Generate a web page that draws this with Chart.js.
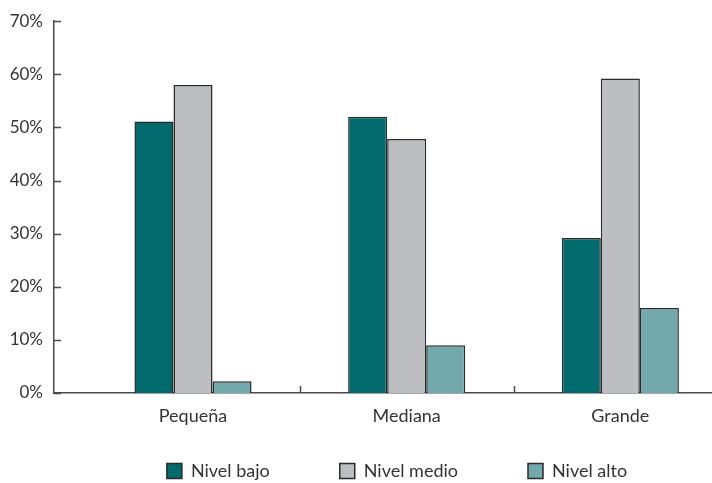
<!DOCTYPE html>
<html>
<head>
<meta charset="utf-8">
<script src="https://cdn.jsdelivr.net/npm/chart.js@4/dist/chart.umd.min.js"></script>
<style>
  html, body { margin: 0; padding: 0; background: #fff; }
  #wrap { width: 712px; height: 483px; position: relative; }
</style>
</head>
<body>
<div id="wrap"><canvas id="c"></canvas></div>
<script>
const categories = ['Pequeña', 'Mediana', 'Grande'];
const seriesNames = ['Nivel bajo', 'Nivel medio', 'Nivel alto'];
const nivelBajo = [51.1, 52.0, 29.2];
const nivelMedio = [58.0, 47.8, 59.2];
const nivelAlto = [2.2, 9.0, 16.0];
const yTicks = [0, 10, 20, 30, 40, 50, 60, 70];

const colors = ['#006a6d', '#bdbec2', '#72a9ac'];
const FONT = 'Lato, "Open Sans", sans-serif';
const TEXT = '#333333';
const AXIS = '#4a4a4a';

function pts(arr) { return arr.map((v, i) => ({ x: i, y: v })); }

const innerTicks = {
  id: 'innerTicks',
  afterLayout(chart) {
    // legend reserves little height; extend its box so the row sits at the reference position
    const lg = chart.legend;
    if (lg) {
      lg.top = chart.chartArea.bottom - 1;
      lg.height = lg.bottom - lg.top;
      lg.left = 82;
      lg.width = lg.right - lg.left;
    }
  },
  afterDatasetsDraw(chart) {
    const { ctx, chartArea, scales } = chart;
    ctx.save();
    ctx.strokeStyle = AXIS;
    ctx.lineWidth = 1.5;
    ctx.beginPath();
    yTicks.forEach(v => {
      const y = Math.round(scales.y.getPixelForValue(v)) + 0.5;
      ctx.moveTo(chartArea.left, y);
      ctx.lineTo(chartArea.left + 7, y);
    });
    for (let i = 0; i < categories.length - 1; i++) {
      const x = Math.round(scales.x.getPixelForValue(i + 0.5)) + 0.5;
      ctx.moveTo(x, chartArea.bottom);
      ctx.lineTo(x, chartArea.bottom - 7);
    }
    ctx.stroke();
    ctx.restore();
  }
};

new Chart(document.getElementById('c'), {
  type: 'bar',
  data: {
    datasets: [
      { label: seriesNames[0], data: pts(nivelBajo), backgroundColor: colors[0] },
      { label: seriesNames[1], data: pts(nivelMedio), backgroundColor: colors[1] },
      { label: seriesNames[2], data: pts(nivelAlto), backgroundColor: colors[2] }
    ].map(d => Object.assign(d, {
      borderColor: '#2a2a2a', borderWidth: 1.5,
      categoryPercentage: 0.548, barPercentage: 1.0
    }))
  },
  options: {
    responsive: true,
    maintainAspectRatio: false,
    animation: false,
    layout: { padding: { top: 21, right: 0, bottom: 0, left: 0 } },
    plugins: {
      tooltip: { enabled: false },
      legend: {
        position: 'bottom',
        fullSize: false,
        maxHeight: 30,
        labels: {
          color: TEXT,
          font: { family: FONT, size: 18 },
          boxWidth: 15, boxHeight: 15,
          padding: 70,
          useBorderRadius: false
        }
      }
    },
    scales: {
      x: {
        type: 'linear',
        offset: false,
        min: -0.6506,
        max: 2.429,
        grid: { display: false, drawTicks: false },
        border: { display: true, color: AXIS, width: 1.5 },
        afterBuildTicks(scale) { scale.ticks = categories.map((c, i) => ({ value: i })); },
        afterFit(scale) { scale.height = 60; },
        ticks: {
          color: TEXT,
          font: { family: FONT, size: 18 },
          padding: 12,
          maxRotation: 0,
          autoSkip: false,
          callback: (v) => categories[v]
        }
      },
      y: {
        min: 0,
        max: 70,
        grid: { display: false, drawTicks: false },
        border: { display: true, color: AXIS, width: 1.5 },
        afterBuildTicks(scale) { scale.ticks = yTicks.map(v => ({ value: v })); },
        afterFit(scale) { scale.width = 54; },
        ticks: {
          color: TEXT,
          font: { family: FONT, size: 17 },
          padding: 11,
          callback: (v) => v + '%'
        }
      }
    }
  },
  plugins: [innerTicks]
});
</script>
</body>
</html>
